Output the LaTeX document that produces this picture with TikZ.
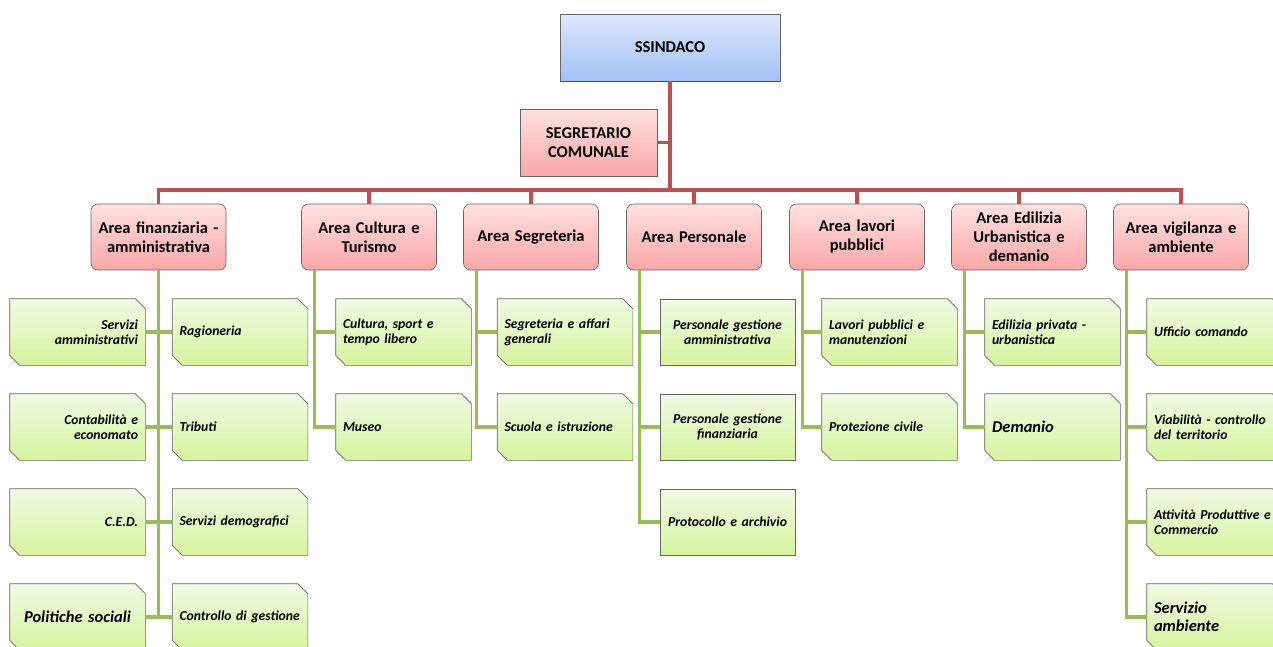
\documentclass[tikz,border=0pt]{standalone}
\usepackage{fontspec}
\setmainfont{Carlito}
\usetikzlibrary{calc}
\definecolor{blueA}{HTML}{DDE8FC}
\definecolor{blueB}{HTML}{A3C1F5}
\definecolor{pinkA}{HTML}{FFE1E1}
\definecolor{pinkB}{HTML}{FAA6A6}
\definecolor{greenA}{HTML}{F0FAE3}
\definecolor{greenB}{HTML}{D6F49E}
\definecolor{redline}{HTML}{C0504D}
\definecolor{greenline}{HTML}{9BBB59}
\makeatletter
\pgfdeclareshape{bevelbox}{
  \inheritsavedanchors[from=rectangle]
  \inheritanchorborder[from=rectangle]
  \inheritanchor[from=rectangle]{center}
  \inheritanchor[from=rectangle]{north}
  \inheritanchor[from=rectangle]{south}
  \inheritanchor[from=rectangle]{east}
  \inheritanchor[from=rectangle]{west}
  \inheritanchor[from=rectangle]{north east}
  \inheritanchor[from=rectangle]{north west}
  \inheritanchor[from=rectangle]{south east}
  \inheritanchor[from=rectangle]{south west}
  \backgroundpath{
    \southwest \pgf@xa=\pgf@x \pgf@ya=\pgf@y
    \northeast \pgf@xb=\pgf@x \pgf@yb=\pgf@y
    \pgf@xc=\pgf@xb \advance\pgf@xc by -10pt
    \pgf@yc=\pgf@yb \advance\pgf@yc by -10pt
    \pgfpathmoveto{\pgfqpoint{\pgf@xa}{\pgf@yb}}
    \pgfpathlineto{\pgfqpoint{\pgf@xc}{\pgf@yb}}
    \pgfpathlineto{\pgfqpoint{\pgf@xb}{\pgf@yc}}
    \pgfpathlineto{\pgfqpoint{\pgf@xb}{\pgf@ya}}
    \pgf@xc=\pgf@xa \advance\pgf@xc by 10pt
    \pgf@yc=\pgf@ya \advance\pgf@yc by 10pt
    \pgfpathlineto{\pgfqpoint{\pgf@xc}{\pgf@ya}}
    \pgfpathlineto{\pgfqpoint{\pgf@xa}{\pgf@yc}}
    \pgfpathclose
  }
}
\makeatother
\begin{document}
\begin{tikzpicture}[x=1pt,y=-1pt,
  box/.style={draw=black!60,line width=.6pt,minimum width=135pt,minimum height=66pt,
    inner sep=0pt,align=center,font=\bfseries\fontsize{16.5}{19}\selectfont},
  mayor/.style={box,minimum width=220pt,minimum height=67pt,top color=blueA,bottom color=blueB},
  secr/.style={box,minimum width=137pt,minimum height=67pt,top color=pinkA,bottom color=pinkB},
  area/.style={box,rounded corners=7pt,top color=pinkA,bottom color=pinkB,text width=130pt},
  leaf/.style={draw=black!60,line width=.6pt,shape=bevelbox,
    minimum width=135pt,minimum height=66pt,inner xsep=7pt,inner ysep=0pt,text width=121pt,
    top color=greenA,bottom color=greenB,font=\bfseries\itshape\fontsize{13.7}{15.3}\selectfont},
  plainleaf/.style={leaf,shape=rectangle},
  big/.style={font=\bfseries\itshape\fontsize{16.5}{18.5}\selectfont},
  redl/.style={draw=redline,line width=3.5pt},
  greenl/.style={draw=greenline,line width=3.5pt}]
\useasboundingbox (0,0) rectangle (1273,646);

\node[mayor] (sindaco) at (670,47.5) {SSINDACO};
\draw[line width=1.5pt,black!70] (sindaco.south west) -- (sindaco.south east);
\node[secr] (segr) at (588.5,142.5) {SEGRETARIO\\COMUNALE};
\coordinate (bus) at (670,190);

\node[area] (a1) at (158.5,237) {Area finanziaria -\\amministrativa};
\node[area] (a2) at (369,237) {Area Cultura e\\Turismo};
\node[area] (a3) at (531,237) {Area Segreteria};
\node[area] (a4) at (694,237) {Area Personale};
\node[area] (a5) at (857,237) {Area lavori\\pubblici};
\node[area] (a6) at (1019,237) {Area Edilizia\\Urbanistica e\\demanio};
\node[area] (a7) at (1181,237) {Area vigilanza e\\ambiente};

\draw[redl] (sindaco.south) -- (bus);
\draw[redl] (segr.east) -- (segr.east -| bus);
\foreach \a in {1,...,7}
  \draw[redl] (a\a.north) |- (bus);

\foreach \r/\t in {1/{Servizi\\amministrativi},2/{Contabilità e\\economato},3/{C.E.D.}}
  \node[leaf,align=right] (fl\r) at (77.5,237+95*\r) {\t};
\node[leaf,big,align=center] (fl4) at (77.5,617) {Politiche sociali};
\foreach \r/\t in {1/Ragioneria,2/Tributi,3/Servizi demografici,4/Controllo di gestione}
  \node[leaf,align=left] (fr\r) at (240,237+95*\r) {\t};
\foreach \r/\t in {1/{Cultura, sport e\\tempo libero},2/Museo}
  \node[leaf,align=left] (cu\r) at (403.5,237+95*\r) {\t};
\foreach \r/\t in {1/{Segreteria e affari\\generali},2/Scuola e istruzione}
  \node[leaf,align=left] (se\r) at (565,237+95*\r) {\t};
\foreach \r/\t in {1/{Personale gestione\\amministrativa},2/{Personale gestione\\finanziaria},3/Protocollo e archivio}
  \node[plainleaf,align=center] (pe\r) at (727.5,237+95*\r) {\t};
\foreach \r/\t in {1/{Lavori pubblici e\\manutenzioni},2/Protezione civile}
  \node[leaf,align=left] (lp\r) at (889.5,237+95*\r) {\t};
\node[leaf,align=left] (ed1) at (1052.5,332) {Edilizia privata -\\urbanistica};
\node[leaf,big,align=left] (ed2) at (1052.5,427) {Demanio};
\foreach \r/\t in {1/Ufficio comando,2/{Viabilità - controllo\\del territorio},3/{Attività Produttive e\\Commercio}}
  \node[leaf,align=left] (vi\r) at (1214.5,237+95*\r) {\t};
\node[leaf,big,align=left] (vi4) at (1214.5,617) {Servizio\\ambiente};

\foreach \r in {1,...,4}
  \draw[greenl] (a1.south) |- (fl\r.east) (a1.south) |- (fr\r.west);
\foreach \r in {1,2}
  \draw[greenl] ($(a2.south west)+(13.5,0)$) |- (cu\r.west);
\foreach \r in {1,2}
  \draw[greenl] ($(a3.south west)+(13.5,0)$) |- (se\r.west);
\foreach \r in {1,...,3}
  \draw[greenl] ($(a4.south west)+(13.5,0)$) |- (pe\r.west);
\foreach \r in {1,2}
  \draw[greenl] ($(a5.south west)+(13.5,0)$) |- (lp\r.west);
\foreach \r in {1,2}
  \draw[greenl] ($(a6.south west)+(13.5,0)$) |- (ed\r.west);
\foreach \r in {1,...,4}
  \draw[greenl] ($(a7.south west)+(13.5,0)$) |- (vi\r.west);
\end{tikzpicture}
\end{document}
